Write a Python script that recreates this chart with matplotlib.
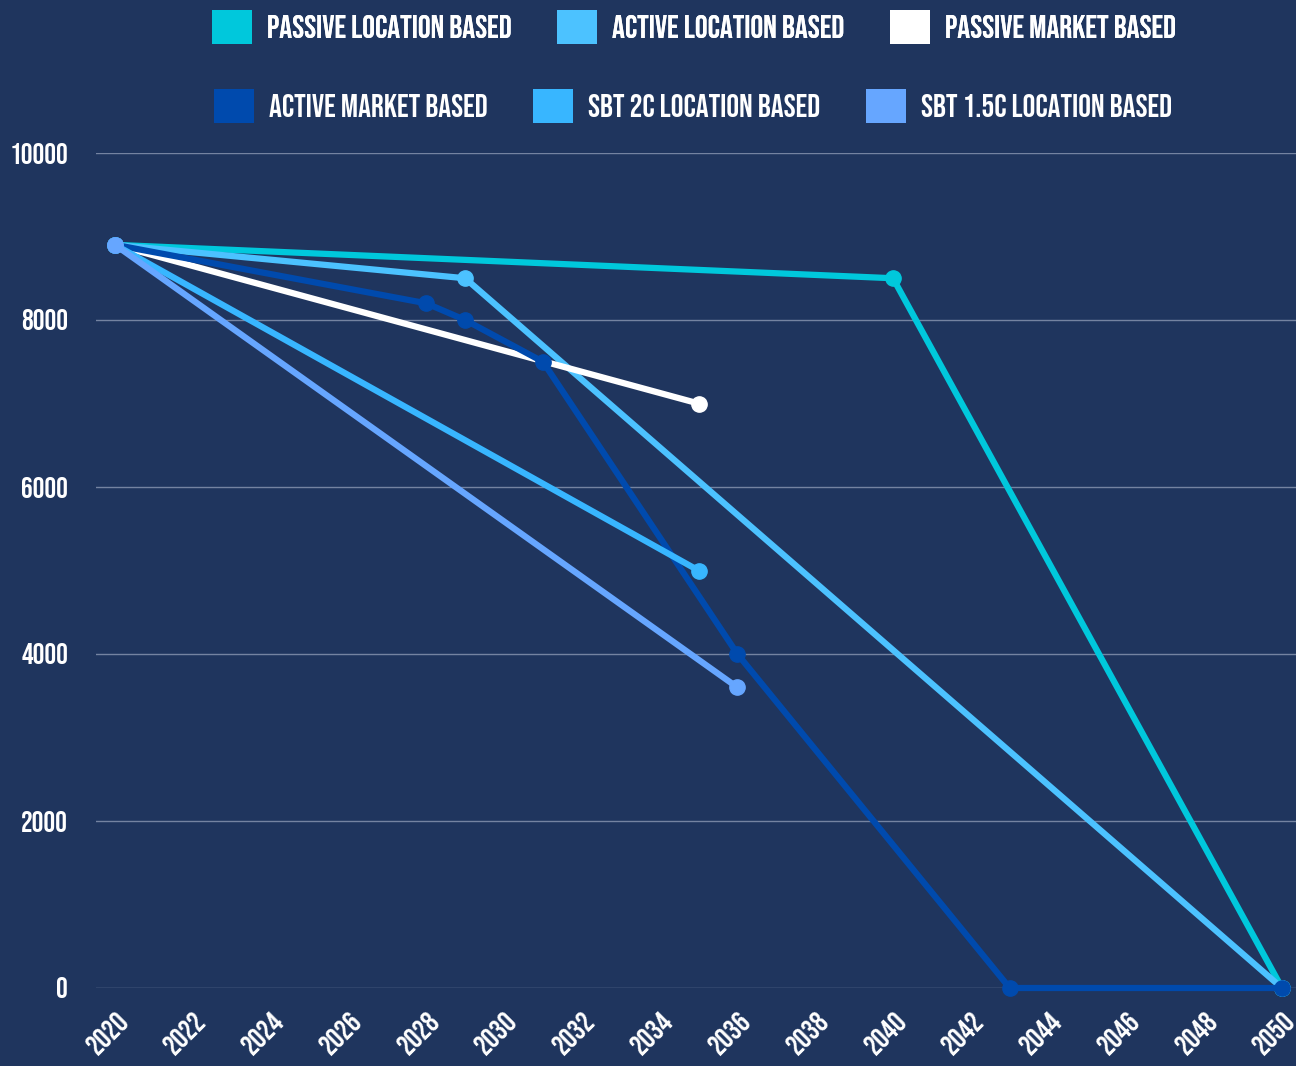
import matplotlib
matplotlib.use('Agg')
import matplotlib.pyplot as plt
import matplotlib.transforms as mtransforms
from matplotlib.patches import Patch

# data (year, tCO2e)
series_names = ['PASSIVE LOCATION BASED', 'ACTIVE LOCATION BASED', 'PASSIVE MARKET BASED',
                'ACTIVE MARKET BASED', 'SBT 2C LOCATION BASED', 'SBT 1.5C LOCATION BASED']
passive_loc_x = [2020, 2040, 2050]
passive_loc_y = [8900, 8500, 0]
active_loc_x = [2020, 2029, 2050]
active_loc_y = [8900, 8500, 0]
passive_mkt_x = [2020, 2035]
passive_mkt_y = [8900, 7000]
active_mkt_x = [2020, 2028, 2029, 2031, 2036, 2043, 2050]
active_mkt_y = [8900, 8200, 8000, 7500, 4000, 0, 0]
sbt2_x = [2020, 2035]
sbt2_y = [8900, 5000]
sbt15_x = [2020, 2036]
sbt15_y = [8900, 3600]

colors = ['#00c8dc', '#4cc2ff', '#ffffff', '#004aad', '#38b6ff', '#66a6ff']
xs = [passive_loc_x, active_loc_x, passive_mkt_x, active_mkt_x, sbt2_x, sbt15_x]
ys = [passive_loc_y, active_loc_y, passive_mkt_y, active_mkt_y, sbt2_y, sbt15_y]

xticks = list(range(2020, 2051, 2))
yticks = [0, 2000, 4000, 6000, 8000, 10000]

bg = '#1f355e'
fam = ['Bebas Neue', 'DejaVu Sans']

fig = plt.figure(figsize=(12.96, 10.66), dpi=100, facecolor=bg)
ax = fig.add_axes([96/1296, 1-988/1066, 1200/1296, (988-153)/1066])
ax.set_facecolor(bg)

for x, y, c in zip(xs, ys, colors):
    ax.plot(x, y, color=c, lw=4.5, marker='o', ms=11, solid_capstyle='round',
            clip_on=False, zorder=3)

ax.set_xlim(2019.51, 2050.36)
ax.set_ylim(0, 10000)
ax.set_yticks(yticks)
ax.set_xticks(xticks)
ax.set_yticklabels([str(v) for v in yticks], fontsize=21, color='white', family=fam)
ax.set_xticklabels([str(v) for v in xticks], fontsize=21, color='white', family=fam,
                   rotation=45, ha='right', va='center', rotation_mode='anchor')
ax.tick_params(length=0)
ax.tick_params(axis='y', pad=20)
ax.tick_params(axis='x', pad=20)
# nudge the rotated year labels a little to the right
shift = mtransforms.ScaledTranslation(8/100, 0, fig.dpi_scale_trans)
for lbl in ax.get_xticklabels():
    lbl.set_transform(lbl.get_transform() + shift)
ax.grid(axis='y', color='#8a97b3', lw=1, alpha=0.8)
ax.set_axisbelow(True)
for s in ax.spines.values():
    s.set_visible(False)

handles = [Patch(facecolor=c, edgecolor='none') for c in colors]
leg_kw = dict(loc='center', ncol=3, frameon=False, prop={'family': fam, 'size': 23},
              labelcolor='white', handlelength=1.25, handleheight=1.25,
              handletextpad=0.47, columnspacing=1.44)
leg1 = fig.legend(handles[:3], series_names[:3], bbox_to_anchor=(694/1296, 1-27/1066), **leg_kw)
fig.legend(handles[3:], series_names[3:], bbox_to_anchor=(693/1296, 1-106/1066), **leg_kw)
fig.add_artist(leg1)

fig.savefig('out.png', dpi=100, facecolor=bg)
